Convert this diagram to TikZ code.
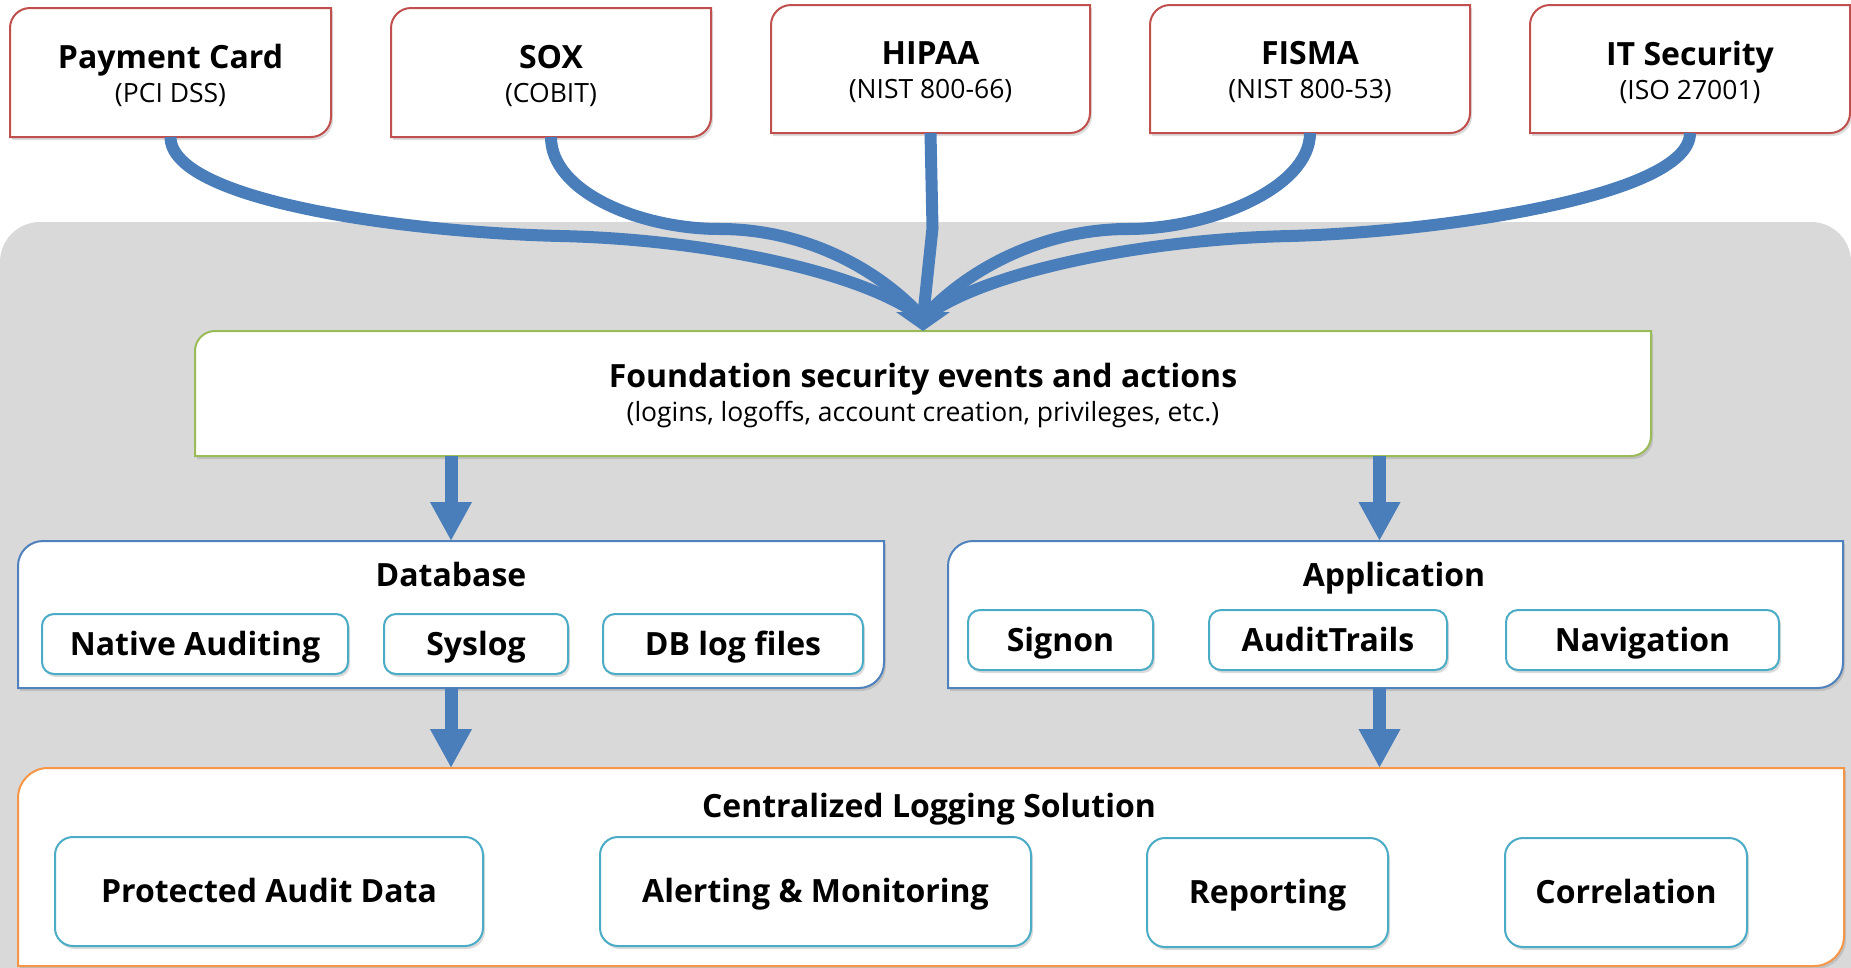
\documentclass[tikz,border=0pt]{standalone}
\usepackage{fontspec}
\setmainfont{Open Sans}
\usetikzlibrary{arrows.meta,shadows,calc}
\pgfdeclarelayer{bg}
\pgfdeclarelayer{back}
\pgfsetlayers{bg,back,main}

\definecolor{panel}{HTML}{D9D9D9}
\definecolor{stdred}{HTML}{C0504D}
\definecolor{fndgreen}{HTML}{9BBB59}
\definecolor{srcblue}{HTML}{4F81BD}
\definecolor{logorange}{HTML}{F79646}
\definecolor{itemaqua}{HTML}{4BACC6}
\definecolor{flowblue}{HTML}{4A7EBB}

\newcommand\tbf{\fontsize{32}{34}\selectfont\bfseries}
\newcommand\tsub{\fontsize{26.5}{34}\selectfont}

% outline with rounded top-left and bottom-right corners, drawn behind a node
\newcommand\cutframe[3]{%
  \begin{pgfonlayer}{back}
    \draw[framebox, draw=#3] (#1.south west)
      -- ([yshift=-#2]#1.north west) arc[start angle=180, end angle=90, radius=#2]
      -- (#1.north east)
      -- ([yshift=#2]#1.south east) arc[start angle=0, end angle=-90, radius=#2]
      -- cycle;
  \end{pgfonlayer}}

\tikzset{
  every node/.style={inner sep=0pt, outer sep=0pt},
  dims/.style 2 args={minimum width=#1, minimum height=#2},
  softshadow/.style={drop shadow={opacity=0.28, shadow xshift=2pt, shadow yshift=-3pt}},
  framebox/.style={fill=white, line width=2pt, softshadow},
  twoline/.style={align=center, font=\tsub},
  evenline/.style={text height=30.4pt, text depth=7.7pt},
  heading/.style={font=\tbf, evenline},
  item/.style={draw=itemaqua, line width=2pt, fill=white, font=\tbf, evenline, softshadow},
  flow/.style={draw=flowblue, line width=12pt},
  bar/.style={draw=flowblue, line width=13pt, -{Triangle[width=39pt, length=39pt]}},
}

\begin{document}
\begin{tikzpicture}[x=1pt, y=-1pt]
\useasboundingbox (0,0) rectangle (1851,967);

% grey panel behind the processing stages
\begin{pgfonlayer}{bg}
  \fill[panel, rounded corners=40pt] (0,222) rectangle (1851,1040);
\end{pgfonlayer}

% compliance standards (text placed slightly below the frame centre)
\node[dims={321pt}{129pt}] (pc)  at (170.5,72.5) {};
\node[dims={320pt}{129pt}] (sox) at (551,72.5)   {};
\node[dims={319pt}{128pt}] (hip) at (930.5,69)   {};
\node[dims={320pt}{128pt}] (fis) at (1310,69)    {};
\node[dims={320pt}{128pt}] (its) at (1690,69)    {};
\cutframe{pc}{20pt}{stdred}
\cutframe{sox}{20pt}{stdred}
\cutframe{hip}{20pt}{stdred}
\cutframe{fis}{20pt}{stdred}
\cutframe{its}{20pt}{stdred}
\node[twoline] (pct)  at ([yshift=-3pt]pc.center)  {{\tbf Payment Card}\\(PCI DSS)};
\node[twoline] (soxt) at ([yshift=-3pt]sox.center) {{\tbf SOX}\\(COBIT)};
\node[twoline] (hipt) at ([yshift=-3pt]hip.center) {{\tbf HIPAA}\\(NIST 800-66)};
\node[twoline] (fist) at ([yshift=-3pt]fis.center) {{\tbf FISMA}\\(NIST 800-53)};
\node[twoline] (itst) at ([yshift=-3pt]its.center) {{\tbf IT Security}\\(ISO 27001)};

% foundation events
\node[dims={1456pt}{125pt}] (fnd) at (923,393.5) {};
\cutframe{fnd}{20pt}{fndgreen}
\node[twoline] (fndt) at ([yshift=-2.5pt]fnd.center)
  {{\tbf Foundation security events and actions}\\(logins, logoffs, account creation, privileges, etc.)};

% event sources
\node[dims={866pt}{147pt}] (dbk) at (451,614.5) {};
\cutframe{dbk}{25pt}{srcblue}
\node[heading] (dbt) at (451,575) {Database};
\node[item, rounded corners=12pt, dims={306pt}{60pt}] (nat) at (195,644)   {Native Auditing};
\node[item, rounded corners=12pt, dims={184pt}{60pt}] (sys) at (476,644)   {Syslog};
\node[item, rounded corners=12pt, dims={260pt}{60pt}] (dbl) at (733,644)   {DB log files};

\node[dims={895pt}{147pt}] (apk) at (1395.5,614.5) {};
\cutframe{apk}{25pt}{srcblue}
\node[heading] (apt) at (1394,575) {Application};
\node[item, rounded corners=12pt, dims={185pt}{60pt}] (sgn) at (1060.5,640) {Signon};
\node[item, rounded corners=12pt, dims={238pt}{60pt}] (aud) at (1328,640)   {AuditTrails};
\node[item, rounded corners=12pt, dims={273pt}{60pt}] (nav) at (1642.5,640) {Navigation};

% central log store
\node[dims={1826pt}{198pt}] (cls) at (931,867) {};
\cutframe{cls}{30pt}{logorange}
\node[heading] (clt) at (929,806) {Centralized Logging Solution};
\node[item, rounded corners=18pt, dims={428pt}{109pt}] (pad) at (269,891.5)   {Protected Audit Data};
\node[item, rounded corners=18pt, dims={431pt}{109pt}] (alm) at (815.5,891.5) {Alerting \& Monitoring};
\node[item, rounded corners=18pt, dims={241pt}{109pt}] (rep) at (1267.5,892.5) {Reporting};
\node[item, rounded corners=18pt, dims={242pt}{109pt}] (cor) at (1626,892.5)  {Correlation};

% converging flows into the foundation box
\coordinate (hd) at ([yshift=13pt]fnd.north);
\draw[flow] (pc.south) .. controls +(0,63) and (400,232) .. (560,236)
            .. controls (700,239) and (860,270) .. (hd);
\draw[flow] (sox.south) .. controls +(0,55) and (640,229) .. (720,229)
            .. controls (800,229) and (875,265) .. (hd);
\draw[flow] (hip.south) -- ([xshift=2pt]hip.south |- 0,228) -- (hd);
\draw[flow] (fis.south) .. controls +(0,55) and (1210,229) .. (1128,229)
            .. controls (1048,229) and (971,265) .. (hd);
\draw[flow] (its.south) .. controls +(0,63) and (1440,232) .. (1290,236)
            .. controls (1150,239) and (985,270) .. (hd);
\fill[flowblue] ([xshift=-27pt,yshift=19pt]fnd.north) -- (fnd.north)
  -- ([xshift=27pt,yshift=19pt]fnd.north) -- cycle;

% straight flows between stages
\draw[bar] (dbk.north |- fnd.south) -- (dbk.north);
\draw[bar] ([xshift=-16pt]apk.north |- fnd.south) -- ([xshift=-16pt]apk.north);
\draw[bar] (dbk.south) -- (dbk.south |- cls.north);
\draw[bar] ([xshift=-16pt]apk.south) -- ([xshift=-16pt]apk.south |- cls.north);
\end{tikzpicture}
\end{document}
